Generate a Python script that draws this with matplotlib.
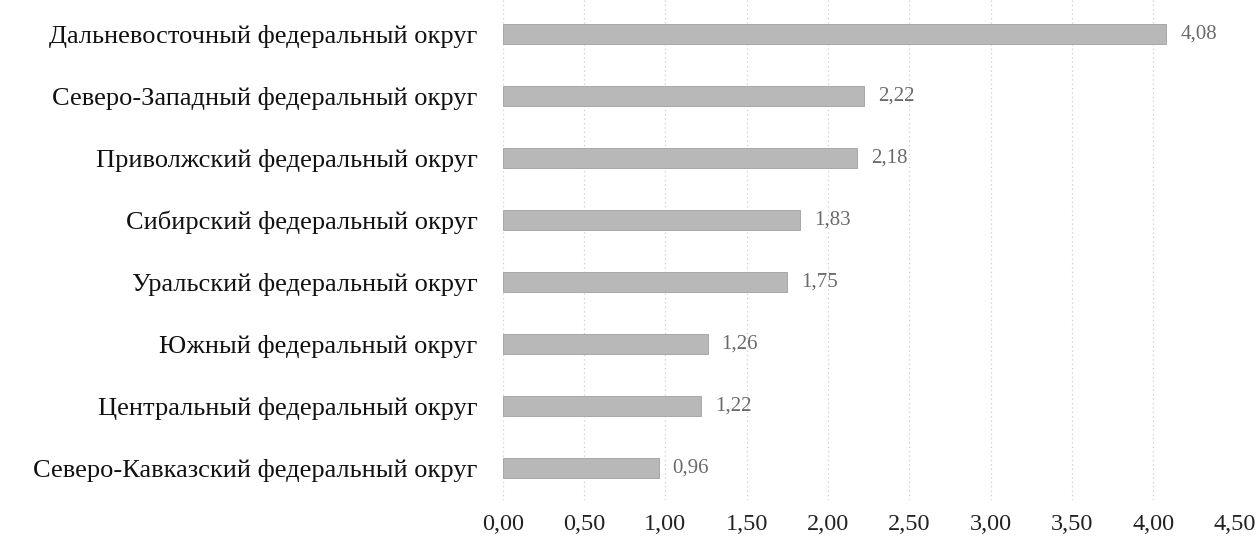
import matplotlib.pyplot as plt
import numpy as np

regions = [
    "Дальневосточный федеральный округ",
    "Северо-Западный федеральный округ",
    "Приволжский федеральный округ",
    "Сибирский федеральный округ",
    "Уральский федеральный округ",
    "Южный федеральный округ",
    "Центральный федеральный округ",
    "Северо-Кавказский федеральный округ",
]
values = [4.08, 2.22, 2.18, 1.83, 1.75, 1.26, 1.22, 0.96]
xticks = [0, 0.5, 1.0, 1.5, 2.0, 2.5, 3.0, 3.5, 4.0, 4.5]

plt.rcParams['font.family'] = ['Liberation Serif', 'DejaVu Serif']

fig = plt.figure(figsize=(12.6, 5.42), dpi=100)
ax = fig.add_axes([0.399, 0.077, 0.581, 0.923])

y = np.arange(len(regions))
ax.barh(y, values, height=0.32, color='#b8b8b8', edgecolor='#a0a0a0', linewidth=0.6, zorder=3)

for yi, v in zip(y, values):
    ax.text(v + 0.085, yi, f"{v:.2f}".replace('.', ','), va='center', ha='left',
            fontsize=15, color='#6a6a6a')

ax.set_xlim(0, 4.5)
ax.set_ylim(7.52, -0.55)
ax.set_xticks(xticks)
ax.set_xticklabels([f"{t:.2f}".replace('.', ',') for t in xticks], fontsize=17.5, color='#222222')
ax.set_yticks(y)
ax.set_yticklabels(regions, fontsize=19, color='#111111')
ax.tick_params(axis='both', length=0)
ax.tick_params(axis='x', pad=10)
ax.tick_params(axis='y', pad=18)
ax.grid(axis='x', color='#cccccc', linestyle=(0, (1, 2.5)), linewidth=0.9, zorder=0)
for s in ax.spines.values():
    s.set_visible(False)

fig.savefig("out.png", dpi=100)
